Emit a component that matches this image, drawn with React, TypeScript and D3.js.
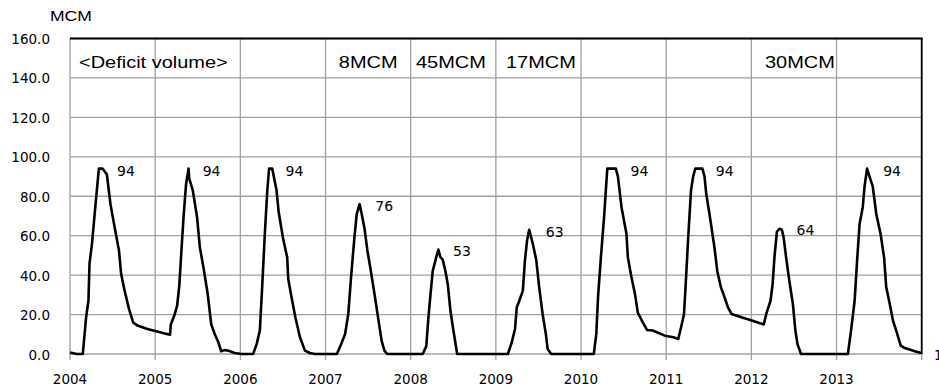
import React from "react";
import * as d3 from "d3";

// months elapsed since January 2004
const months = [
  0, 0.95, 1.8, 2.27, 2.6, 2.75, 3.1, 3.6, 4.07, 4.6, 5.2, 5.7, 6.3, 6.9, 7.2, 7.7, 8.3, 8.9, 9.5, 10.9, 12.3, 13.6, 14.1,
  14.2, 14.7, 15.1, 15.4, 15.7, 16.0, 16.35, 16.7, 16.8, 17.3, 17.9, 18.3, 18.8, 19.4, 19.9, 20.4, 20.9, 21.3, 21.8, 22.3, 23.2, 24.2,
  25.8, 26.3, 26.75, 27.1, 27.45, 27.8, 28.05, 28.5, 29.1, 29.4, 30.0, 30.6, 30.75, 31.2, 31.75, 32.4, 33.1, 33.8, 34.5,
  37.6, 38.2, 38.75, 39.2, 39.6, 40.07, 40.4, 40.8, 41.1, 41.5, 41.9, 42.3, 42.9, 43.4, 43.9, 44.3, 44.7,
  49.7, 50.2, 50.5, 50.8, 51.1, 51.6, 51.9, 52.2, 52.5, 52.9, 53.25, 53.6, 53.95, 54.55,
  61.7, 62.25, 62.7, 62.95, 63.2, 63.8, 64.1, 64.4, 64.7, 65.2, 65.7, 66.1, 66.6, 67.05, 67.3, 67.8,
  73.8, 74.15, 74.4, 74.8, 75.25, 75.7, 76.9, 77.2, 77.7, 78.4, 78.6, 79.1, 79.6, 80.0, 80.7, 81.3, 82.1, 83.8, 85.0, 85.7,
  86.1, 86.5, 86.7, 87.1, 87.5, 87.8, 88.1, 89.1, 89.4, 89.65, 90.1, 90.8, 91.2, 91.7, 92.2, 92.7, 93.2, 94.6, 96.4,
  97.75, 98.1, 98.7, 99.0, 99.25, 99.6, 99.95, 100.3, 100.55, 100.9, 101.35, 101.85, 102.2, 102.5, 103.0,
  109.6, 110.05, 110.55, 110.9, 111.25, 111.7, 111.95, 112.3, 112.65, 113.1, 113.6, 114.2, 114.7, 115.0, 115.5, 115.95, 116.4,
  117.05, 117.6, 118.5, 119.25, 119.95,
];

// deficit volume (MCM)
const deficit = [
  0.8, 0, 0, 18.6, 27, 46, 56, 76, 94, 94, 91, 76, 64, 52.5, 40.7, 32, 23, 16, 14.4, 12.7, 11.4, 10.2, 9.8,
  15, 19.5, 24.6, 34.7, 52.5, 69.5, 86, 94, 89, 83, 69.5, 54, 44, 30.5, 15, 10, 6, 1.4, 2, 1.7, 0.5, 0,
  0, 5, 12, 35.6, 61, 83, 94, 94, 83, 72, 59, 49, 38, 29, 18.6, 8.5, 1.7, 0.5, 0,
  0, 5, 10, 20, 39, 59, 71, 76, 71, 63.5, 52.5, 44, 30.5, 18.6, 6.8, 1.7, 0,
  0, 4, 18.6, 30.5, 42, 49, 53, 49, 48, 42, 34.7, 22, 13.6, 0,
  0, 6, 12.7, 23.7, 26, 32, 47.5, 57.6, 63, 56, 47.5, 34, 20, 10, 2.5, 0,
  0, 10, 29, 49, 69.5, 94, 94, 90, 74.6, 61, 49, 39, 30.5, 21, 16, 12.2, 11.9, 9.3, 8.5, 7.6,
  13.6, 20, 32, 59, 83, 90, 94, 94, 90, 81, 71, 54, 42, 34, 29, 23.7, 20.3, 18.6, 16.6,
  15, 20.3, 27, 35.6, 49, 62, 63.5, 63, 59, 49, 37, 25.4, 12, 5, 0,
  0, 12, 27, 47.5, 66, 74.6, 85, 94, 90, 85, 71, 61, 49, 34, 25.4, 17, 12,
  4.2, 3, 2, 1.2, 0.5,
];

const yearLabels = ["2004", "2005", "2006", "2007", "2008", "2009", "2010", "2011", "2012", "2013"];
const yTicks = [0, 20, 40, 60, 80, 100, 120, 140, 160];

const peakValues = [94, 94, 94, 76, 53, 63, 94, 94, 64, 94];
const peakLabelYears = [2004.552, 2005.558, 2006.53, 2007.585, 2008.497, 2009.587, 2010.581, 2011.583, 2012.53, 2013.548];

const boxLabels = ["<Deficit volume>", "8MCM", "45MCM", "17MCM", "30MCM"];
const boxLabelYears = [2004.106, 2007.156, 2008.062, 2009.119, 2012.16];

const unitLabel = "MCM";

export default function App() {
  const W = 939;
  const H = 390;
  const left = 70;
  const right = 921.7;
  const top = 38.5;
  const bottom = 354;

  const x = d3.scaleLinear().domain([0, 120]).range([left, right]);
  const xYear = d3.scaleLinear().domain([2004, 2014]).range([left, right]);
  const y = d3.scaleLinear().domain([0, 160]).range([bottom, top]);

  const pts: [number, number][] = months.map((m, i) => [m, deficit[i]]);
  const line = d3
    .line<[number, number]>()
    .x((d) => x(d[0]))
    .y((d) => y(d[1]));

  const gridColor = "#a0a0a0";
  const numFont = "DejaVu Sans, sans-serif";
  const txtFont = "Liberation Sans, Arial, sans-serif";

  return (
    <svg
      width={W}
      height={H}
      style={{ position: "absolute", left: 0, top: 0, display: "block", background: "#fff" }}
    >
      <rect x={0} y={0} width={W} height={H} fill="#fff" />
      {/* horizontal grid */}
      {yTicks.map((t) => (
        <line key={"h" + t} x1={left} x2={right} y1={y(t)} y2={y(t)} stroke={gridColor} strokeWidth={1.3} />
      ))}
      {/* vertical grid with small ticks below */}
      {d3.range(0, 11).map((i) => (
        <line
          key={"v" + i}
          x1={xYear(2004 + i)}
          x2={xYear(2004 + i)}
          y1={top}
          y2={bottom + 6}
          stroke={gridColor}
          strokeWidth={1.3}
        />
      ))}
      {/* black top & right border */}
      <line x1={left} x2={right + 1} y1={top} y2={top} stroke="#000" strokeWidth={1.8} />
      <line x1={right} x2={right} y1={top} y2={bottom} stroke="#000" strokeWidth={1.8} />

      {/* y tick labels */}
      {yTicks.map((t) => (
        <text
          key={"yl" + t}
          x={50}
          y={y(t) + 5.5}
          textAnchor="end"
          fontFamily={numFont}
          fontSize={13.5}
          fill="#000"
        >
          {t.toFixed(1)}
        </text>
      ))}
      {/* x tick labels */}
      {yearLabels.map((lab, i) => (
        <text
          key={"xl" + lab}
          x={xYear(2004 + i)}
          y={384}
          textAnchor="middle"
          fontFamily={numFont}
          fontSize={13.5}
          fill="#000"
        >
          {lab}
        </text>
      ))}
      <text x={934} y={360} fontFamily={numFont} fontSize={13.5} fill="#000">
        1
      </text>

      {/* unit */}
      <text
        transform={`translate(50,21) scale(1.17,1)`}
        fontFamily={txtFont}
        fontSize={15}
        fill="#000"
      >
        {unitLabel}
      </text>

      {/* top-row labels */}
      {boxLabels.map((lab, i) => (
        <text
          key={"bl" + i}
          transform={`translate(${xYear(boxLabelYears[i])},68) scale(1.175,1)`}
          fontFamily={txtFont}
          fontSize={17}
          fill="#000"
        >
          {lab}
        </text>
      ))}

      {/* series */}
      <path d={line(pts) || ""} fill="none" stroke="#000" strokeWidth={2.6} strokeLinejoin="round" />

      {/* peak labels */}
      {peakValues.map((v, i) => (
        <text
          key={"pk" + i}
          x={xYear(peakLabelYears[i])}
          y={y(v) + 7}
          fontFamily={numFont}
          fontSize={14}
          fill="#000"
        >
          {v}
        </text>
      ))}
    </svg>
  );
}
